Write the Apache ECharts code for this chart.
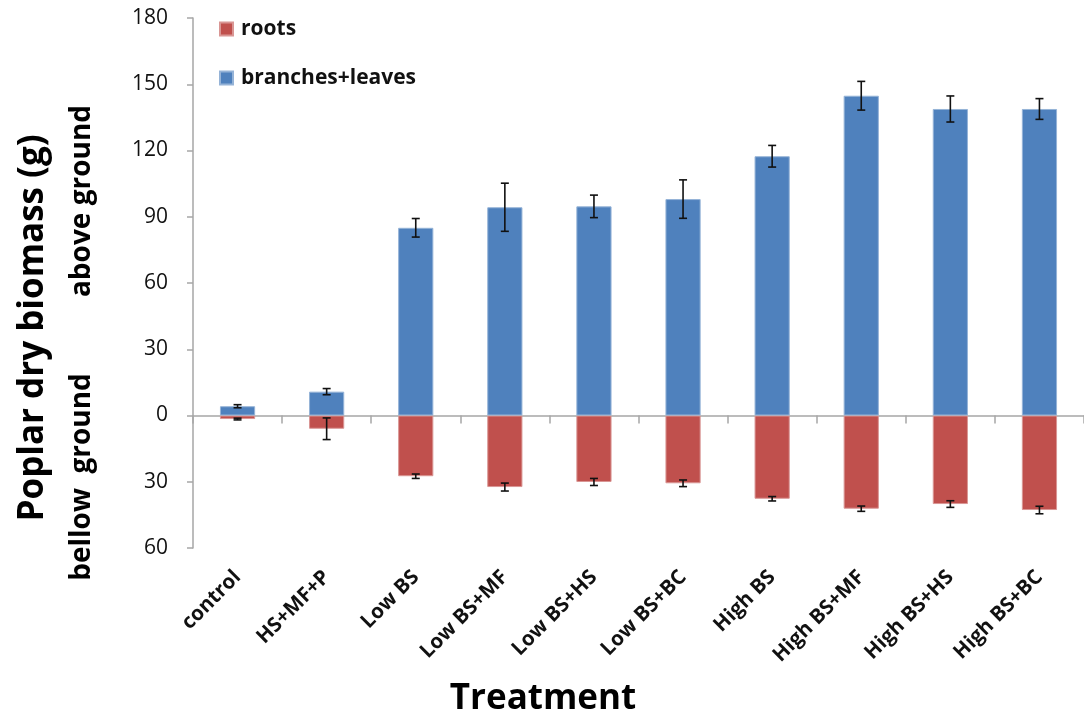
<!DOCTYPE html>
<html>
<head>
<meta charset="utf-8">
<title>Poplar dry biomass</title>
<script src="https://cdn.jsdelivr.net/npm/echarts@6/dist/echarts.min.js"></script>
<style>
  html, body { margin: 0; padding: 0; background: #ffffff; }
  #chart { width: 1084px; height: 717px; }
</style>
</head>
<body>
<div id="chart"></div>
<script>
// Treatments along the x axis
const treatments = ['control', 'HS+MF+P', 'Low BS', 'Low BS+MF', 'Low BS+HS', 'Low BS+BC',
                    'High BS', 'High BS+MF', 'High BS+HS', 'High BS+BC'];

// Above-ground biomass (g) and its error
const shoots    = [4.2, 10.8, 85.0, 94.3, 94.7, 98.0, 117.4, 144.8, 138.8, 138.8];
const shootsErr = [0.7, 1.4, 4.2, 10.9, 5.1, 8.7, 4.9, 6.5, 5.9, 4.7];

// Below-ground biomass (g), drawn downward, and its error
const roots    = [-1.6, -6.0, -27.5, -32.4, -30.1, -30.7, -37.7, -42.2, -40.1, -42.8];
const rootsErr = [0.4, 4.9, 1.0, 1.8, 1.6, 1.5, 1.0, 1.2, 1.5, 1.7];

// Y axis range and step
const yMin = -60, yMax = 180, yStep = 30;

const FONT = '"Open Sans", "Noto Sans", sans-serif';
const AXIS_GREY = '#a6a6a6';

// Error bars: one whisker with two caps per category
function errorItem(params, api) {
  const idx = api.value(0);
  const mid = api.value(1);
  const err = api.value(2);
  const hi = api.coord([idx, mid + err]);
  const lo = api.coord([idx, mid - err]);
  const cap = 4;
  const style = { stroke: '#111111', lineWidth: 1.6 };
  return {
    type: 'group',
    children: [
      { type: 'line', shape: { x1: hi[0], y1: hi[1], x2: lo[0], y2: lo[1] }, style },
      { type: 'line', shape: { x1: hi[0] - cap, y1: hi[1], x2: hi[0] + cap, y2: hi[1] }, style },
      { type: 'line', shape: { x1: lo[0] - cap, y1: lo[1], x2: lo[0] + cap, y2: lo[1] }, style }
    ]
  };
}

const shootErrData = treatments.map((_, i) => [i, shoots[i], shootsErr[i]]);
const rootErrData  = treatments.map((_, i) => [i, roots[i], rootsErr[i]]);

const chart = echarts.init(document.getElementById('chart'), null, { renderer: 'canvas' });

chart.setOption({
  backgroundColor: '#ffffff',
  animation: false,
  grid: { left: 193, top: 18, right: -12, height: 530, containLabel: false },
  legend: {
    orient: 'vertical',
    left: 214,
    top: 13,
    itemWidth: 13,
    itemHeight: 13,
    itemGap: 27,
    icon: 'rect',
    data: ['roots', 'branches+leaves'],
    textStyle: {
      fontFamily: FONT, fontWeight: 'bold', fontSize: 21, color: '#111111',
      lineHeight: 22, padding: [0, 0, 0, 3]
    }
  },
  xAxis: [
    {
      type: 'category',
      data: treatments,
      position: 'bottom',
      axisLine: { show: false, onZero: false },
      axisTick: { show: false },
      axisLabel: {
        rotate: 45,
        margin: 26,
        interval: 0,
        fontFamily: FONT,
        fontWeight: 'bold',
        fontSize: 20.5,
        color: '#111111'
      }
    },
    {
      // Zero baseline with its category ticks
      type: 'category',
      data: treatments,
      position: 'bottom',
      axisLine: { show: true, onZero: true, lineStyle: { color: AXIS_GREY, width: 1.5 } },
      axisTick: { show: true, length: 8, lineStyle: { color: AXIS_GREY, width: 1.5 } },
      axisLabel: { show: false }
    }
  ],
  yAxis: {
    type: 'value',
    min: yMin,
    max: yMax,
    interval: yStep,
    splitLine: { show: false },
    axisLine: { show: true, lineStyle: { color: AXIS_GREY, width: 1.5 } },
    axisTick: { show: true, length: 6, lineStyle: { color: AXIS_GREY, width: 1.5 } },
    axisLabel: {
      margin: 25,
      fontFamily: FONT,
      fontSize: 21,
      color: '#111111',
      formatter: v => String(Math.abs(v))
    }
  },
  series: [
    {
      name: 'roots',
      type: 'bar',
      data: roots,
      barWidth: '39.5%',
      barGap: '-100%',
      itemStyle: { color: '#c0504d', borderColor: '#d99694', borderWidth: 1 },
      z: 2
    },
    {
      name: 'branches+leaves',
      type: 'bar',
      data: shoots,
      barWidth: '39.5%',
      barGap: '-100%',
      itemStyle: { color: '#4f81bd', borderColor: '#95b3d7', borderWidth: 1 },
      z: 2
    },
    {
      name: 'rootsErr',
      type: 'custom',
      renderItem: errorItem,
      data: rootErrData,
      encode: { x: 0, y: 1 },
      z: 5
    },
    {
      name: 'shootsErr',
      type: 'custom',
      renderItem: errorItem,
      data: shootErrData,
      encode: { x: 0, y: 1 },
      z: 5
    }
  ],
  graphic: [
    {
      type: 'text',
      x: 33, y: 328,
      rotation: Math.PI / 2,
      style: {
        text: 'Poplar dry biomass (g)',
        fontFamily: FONT, fontWeight: 'bold', fontSize: 35, fill: '#000000',
        align: 'center', verticalAlign: 'middle'
      }
    },
    {
      type: 'text',
      x: 82, y: 201,
      rotation: Math.PI / 2,
      style: {
        text: 'above ground',
        fontFamily: FONT, fontWeight: 'bold', fontSize: 28, fill: '#000000',
        align: 'center', verticalAlign: 'middle'
      }
    },
    {
      type: 'text',
      x: 82, y: 477,
      rotation: Math.PI / 2,
      style: {
        text: 'bellow  ground',
        fontFamily: FONT, fontWeight: 'bold', fontSize: 28, fill: '#000000',
        align: 'center', verticalAlign: 'middle'
      }
    },
    {
      type: 'text',
      x: 543, y: 699,
      style: {
        text: 'Treatment',
        fontFamily: FONT, fontWeight: 'bold', fontSize: 35, fill: '#000000',
        align: 'center', verticalAlign: 'middle'
      }
    }
  ]
});
</script>
</body>
</html>
